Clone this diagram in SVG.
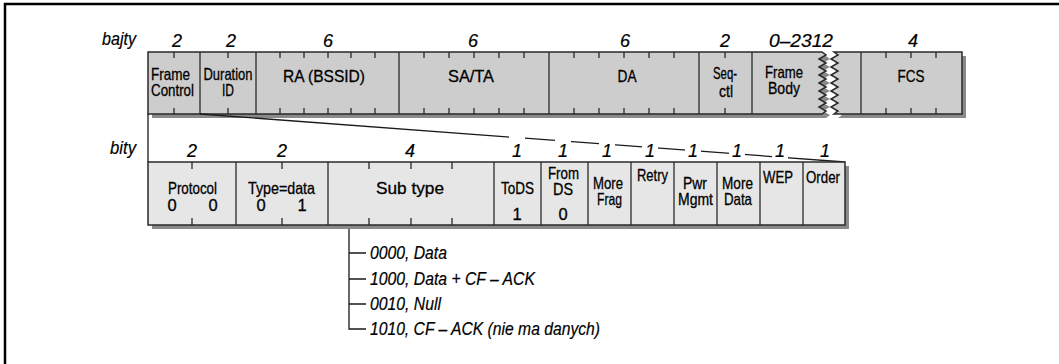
<svg xmlns="http://www.w3.org/2000/svg" width="1059" height="364" viewBox="0 0 1059 364">
<style>
text{font-family:"Liberation Sans",Arial,sans-serif;fill:#000;stroke:#000;stroke-width:0.3;}
.lbl{font-size:16.5px;text-anchor:middle;}
.num{font-size:18px;font-style:italic;text-anchor:middle;stroke-width:0.2;}
.hdr{font-size:18px;font-style:italic;text-anchor:end;stroke-width:0.2;}
.lst{font-size:17.5px;font-style:italic;stroke-width:0.2;}
.byte{fill:#cdcdcd;stroke:#2a2a2a;stroke-width:1.5;}
.bit{fill:#e6e6e6;stroke:#2a2a2a;stroke-width:1.5;}
.sh{fill:#8a8a8a;}
.tk{stroke:#2a2a2a;stroke-width:1.3;fill:none;}
.ln{stroke:#1a1a1a;stroke-width:1.3;fill:none;}
</style>
<rect x="0" y="0" width="1059" height="364" fill="#fff"/>
<path d="M5,364 L5,4 L1059,4" fill="none" stroke="#000" stroke-width="2.5"/>

<text class="hdr" x="136" y="45" textLength="34" lengthAdjust="spacingAndGlyphs">bajty</text>
<text class="hdr" x="136" y="154" textLength="26" lengthAdjust="spacingAndGlyphs">bity</text>

<g id="byte-sizes">
<text class="num" x="177" y="47">2</text>
<text class="num" x="231" y="47">2</text>
<text class="num" x="328" y="47">6</text>
<text class="num" x="473" y="47">6</text>
<text class="num" x="625" y="47">6</text>
<text class="num" x="725" y="47">2</text>
<text class="num" x="801" y="47" textLength="64" lengthAdjust="spacingAndGlyphs">0–2312</text>
<text class="num" x="913" y="47">4</text>
</g>

<g id="frame-shadow">
<path class="sh" transform="translate(4,4)" d="M148,52 L822,52 L826,55 L819,59 L826,63 L819,67 L826,71 L819,75 L826,79 L819,83 L826,87 L819,91 L826,95 L819,99 L826,103 L819,107 L826,111 L822,114 L148,114 Z"/>
<path class="sh" transform="translate(4,4)" d="M834,52 L962,52 L962,114 L834,114 L838,111 L831,107 L838,103 L831,99 L838,95 L831,91 L838,87 L831,83 L838,79 L831,75 L838,71 L831,67 L838,63 L831,59 L838,55 Z"/>
</g>
<g id="frame-body-left">
<path class="byte" d="M148,52 L822,52 L826,55 L819,59 L826,63 L819,67 L826,71 L819,75 L826,79 L819,83 L826,87 L819,91 L826,95 L819,99 L826,103 L819,107 L826,111 L822,114 L148,114 Z"/>
</g>
<g id="frame-body-right">
<path class="byte" d="M834,52 L962,52 L962,114 L834,114 L838,111 L831,107 L838,103 L831,99 L838,95 L831,91 L838,87 L831,83 L838,79 L831,75 L838,71 L831,67 L838,63 L831,59 L838,55 Z"/>
</g>

<g id="field-frame-control">
<path class="tk" d="M174,52V58M174,108V114"/>
<text class="lbl" x="151" y="80" style="text-anchor:start" textLength="39" lengthAdjust="spacingAndGlyphs">Frame</text>
<text class="lbl" x="151" y="96" style="text-anchor:start" textLength="43" lengthAdjust="spacingAndGlyphs">Control</text>
</g>
<g id="field-duration">
<line class="tk" x1="200" y1="52" x2="200" y2="114"/>
<path class="tk" d="M228,52V58M228,108V114"/>
<text class="lbl" x="228" y="80" textLength="49" lengthAdjust="spacingAndGlyphs">Duration</text>
<text class="lbl" x="228" y="96" textLength="12" lengthAdjust="spacingAndGlyphs">ID</text>
</g>
<g id="field-ra">
<line class="tk" x1="256" y1="52" x2="256" y2="114"/>
<path class="tk" d="M280,52V58M304,52V58M328,52V58M351,52V58M375,52V58M280,108V114M304,108V114M328,108V114M351,108V114M375,108V114"/>
<text class="lbl" x="324" y="82" textLength="82" lengthAdjust="spacingAndGlyphs">RA (BSSID)</text>
</g>
<g id="field-sa">
<line class="tk" x1="399" y1="52" x2="399" y2="114"/>
<path class="tk" d="M424,52V58M449,52V58M474,52V58M499,52V58M524,52V58M424,108V114M449,108V114M474,108V114M499,108V114M524,108V114"/>
<text class="lbl" x="471" y="82" textLength="46" lengthAdjust="spacingAndGlyphs">SA/TA</text>
</g>
<g id="field-da">
<line class="tk" x1="549" y1="52" x2="549" y2="114"/>
<path class="tk" d="M574,52V58M599,52V58M624,52V58M649,52V58M674,52V58M574,108V114M599,108V114M624,108V114M649,108V114M674,108V114"/>
<text class="lbl" x="627" y="82" textLength="19" lengthAdjust="spacingAndGlyphs">DA</text>
</g>
<g id="field-seq">
<line class="tk" x1="699" y1="52" x2="699" y2="114"/>
<path class="tk" d="M725,52V58M725,108V114"/>
<text class="lbl" x="725" y="79" textLength="24" lengthAdjust="spacingAndGlyphs">Seq-</text>
<text class="lbl" x="726" y="97" textLength="14" lengthAdjust="spacingAndGlyphs">ctl</text>
</g>
<g id="field-body">
<line class="tk" x1="752" y1="52" x2="752" y2="114"/>
<text class="lbl" x="784" y="78" textLength="38" lengthAdjust="spacingAndGlyphs">Frame</text>
<text class="lbl" x="784" y="94" textLength="32" lengthAdjust="spacingAndGlyphs">Body</text>
</g>
<g id="field-fcs">
<line class="tk" x1="861" y1="52" x2="861" y2="114"/>
<path class="tk" d="M886,52V58M911,52V58M936,52V58M886,108V114M911,108V114M936,108V114"/>
<text class="lbl" x="911" y="82" textLength="27" lengthAdjust="spacingAndGlyphs">FCS</text>
</g>

<g id="connectors">
<line class="ln" x1="148" y1="114" x2="148" y2="162"/>
<line class="ln" x1="200" y1="114" x2="845" y2="162"/>
<g fill="#fff">
<rect x="509" y="128" width="16" height="31"/>
<rect x="555" y="128" width="16" height="31"/>
<rect x="599" y="128" width="16" height="31"/>
<rect x="642" y="128" width="16" height="31"/>
<rect x="685" y="128" width="16" height="31"/>
<rect x="729" y="128" width="16" height="31"/>
<rect x="772" y="128" width="16" height="31"/>
<rect x="817" y="128" width="16" height="31"/>
</g>
<path class="ln" d="M349,229 V329 H366 M349,253 H366 M349,279 H366 M349,304 H366"/>
</g>

<g id="bit-sizes">
<text class="num" x="192" y="157">2</text>
<text class="num" x="282" y="157">2</text>
<text class="num" x="410" y="157">4</text>
<text class="num" x="517" y="157">1</text>
<text class="num" x="563" y="157">1</text>
<text class="num" x="607" y="157">1</text>
<text class="num" x="650" y="157">1</text>
<text class="num" x="693" y="157">1</text>
<text class="num" x="737" y="157">1</text>
<text class="num" x="780" y="157">1</text>
<text class="num" x="825" y="157">1</text>
</g>

<g id="bit-box">
<rect class="sh" x="152" y="166" width="697" height="63"/>
<rect class="bit" x="148" y="162" width="697" height="63"/>
</g>
<g id="bit-protocol">
<path class="tk" d="M192,162V169M192,218V225"/>
<text class="lbl" x="192.5" y="194" textLength="49" lengthAdjust="spacingAndGlyphs">Protocol</text>
<text class="lbl" x="172" y="211">0</text>
<text class="lbl" x="213" y="211">0</text>
</g>
<g id="bit-type">
<line class="tk" x1="236" y1="162" x2="236" y2="225"/>
<path class="tk" d="M282,162V169M282,218V225"/>
<text class="lbl" x="281.5" y="194" textLength="67" lengthAdjust="spacingAndGlyphs">Type=data</text>
<text class="lbl" x="261" y="211">0</text>
<text class="lbl" x="302" y="211">1</text>
</g>
<g id="bit-subtype">
<line class="tk" x1="328" y1="162" x2="328" y2="225"/>
<path class="tk" d="M369,162V169M411,162V169M452,162V169M369,218V225M411,218V225M452,218V225"/>
<text class="lbl" x="410" y="194" textLength="68" lengthAdjust="spacingAndGlyphs">Sub type</text>
</g>
<g id="bit-tods">
<line class="tk" x1="494" y1="162" x2="494" y2="225"/>
<text class="lbl" x="517.5" y="194" textLength="33" lengthAdjust="spacingAndGlyphs">ToDS</text>
<text class="lbl" x="517" y="220">1</text>
</g>
<g id="bit-fromds">
<line class="tk" x1="541" y1="162" x2="541" y2="225"/>
<text class="lbl" x="563.5" y="179" textLength="31" lengthAdjust="spacingAndGlyphs">From</text>
<text class="lbl" x="563" y="195" textLength="20" lengthAdjust="spacingAndGlyphs">DS</text>
<text class="lbl" x="563" y="220">0</text>
</g>
<g id="bit-morefrag">
<line class="tk" x1="588" y1="162" x2="588" y2="225"/>
<text class="lbl" x="608" y="189" textLength="30" lengthAdjust="spacingAndGlyphs">More</text>
<text class="lbl" x="609.5" y="205" textLength="25" lengthAdjust="spacingAndGlyphs">Frag</text>
</g>
<g id="bit-retry">
<line class="tk" x1="631" y1="162" x2="631" y2="225"/>
<text class="lbl" x="652.5" y="181" textLength="31" lengthAdjust="spacingAndGlyphs">Retry</text>
</g>
<g id="bit-pwr">
<line class="tk" x1="674" y1="162" x2="674" y2="225"/>
<text class="lbl" x="695" y="189" textLength="24" lengthAdjust="spacingAndGlyphs">Pwr</text>
<text class="lbl" x="695.5" y="205" textLength="35" lengthAdjust="spacingAndGlyphs">Mgmt</text>
</g>
<g id="bit-moredata">
<line class="tk" x1="717" y1="162" x2="717" y2="225"/>
<text class="lbl" x="737.5" y="189" textLength="31" lengthAdjust="spacingAndGlyphs">More</text>
<text class="lbl" x="738" y="205" textLength="28" lengthAdjust="spacingAndGlyphs">Data</text>
</g>
<g id="bit-wep">
<line class="tk" x1="760" y1="162" x2="760" y2="225"/>
<text class="lbl" x="778" y="183" textLength="30" lengthAdjust="spacingAndGlyphs">WEP</text>
</g>
<g id="bit-order">
<line class="tk" x1="803" y1="162" x2="803" y2="225"/>
<text class="lbl" x="823" y="183" textLength="34" lengthAdjust="spacingAndGlyphs">Order</text>
</g>

<g id="subtype-list">
<text class="lst" x="370" y="259" textLength="77" lengthAdjust="spacingAndGlyphs">0000, Data</text>
<text class="lst" x="370" y="285" textLength="165" lengthAdjust="spacingAndGlyphs">1000, Data + CF – ACK</text>
<text class="lst" x="370" y="310" textLength="71" lengthAdjust="spacingAndGlyphs">0010, Null</text>
<text class="lst" x="370" y="335" textLength="230" lengthAdjust="spacingAndGlyphs">1010, CF – ACK (nie ma danych)</text>
</g>
</svg>
